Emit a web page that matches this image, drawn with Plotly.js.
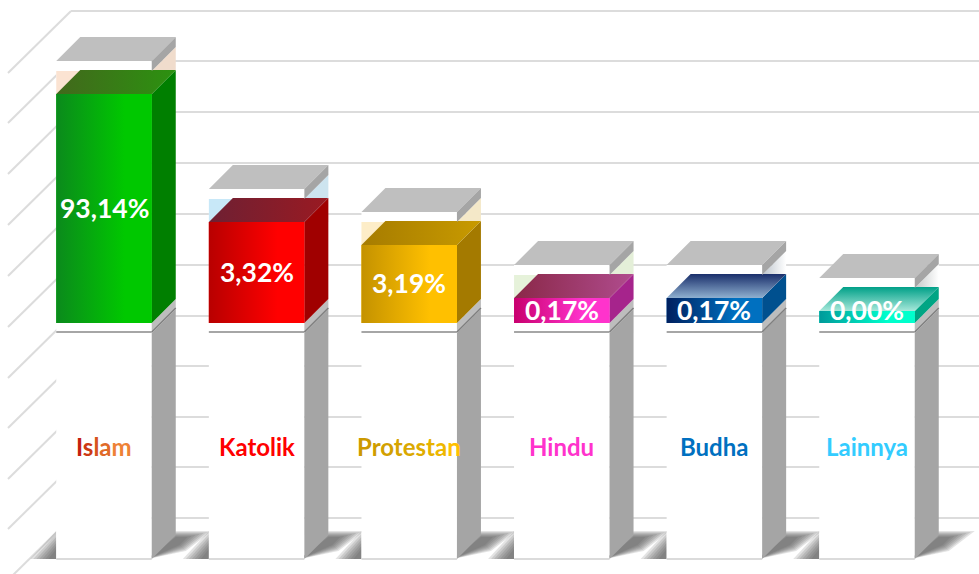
<!DOCTYPE html>
<html>
<head>
<meta charset="utf-8">
<script src="https://cdn.plot.ly/plotly-3.0.1.min.js"></script>
<style>html,body{margin:0;padding:0;background:#fff;overflow:hidden}#chart{width:979px;height:574px}</style>
</head>
<body>
<div id="chart"></div>
<script>
// ---- chart data ----
var categories = ["Islam", "Katolik", "Protestan", "Hindu", "Budha", "Lainnya"];
var percentValues = [93.14, 3.32, 3.19, 0.17, 0.17, 0.00];
// drawn column heights (the picture's bars are not proportional to their labels)
var columnHeights = [229, 101, 78, 25, 25, 12];
var gridLevels = [312, 262, 211, 160, 109, 58, 7, -43, -94, -144, -195];

// ---- styles ----
var frontStart = ["#0b8a1c", "#b80000", "#c49200", "#c8006e", "#00205f", "#009a9a"];
var frontEnd   = ["#00c800", "#ff0000", "#ffc000", "#ff33cc", "#0070c0", "#00ffcc"];
var sideColors = ["#007f00", "#a00000", "#a47a00", "#a6248c", "#00508f", "#00a584"];
var topStart   = ["#42681c", "#6e2033", "#a67c00", "#8a2848", "#1a2f6b", "#00a088"];
var topEnd     = ["#2c9210", "#9a1a22", "#c89a00", "#b04c8e", "#8fb0d0", "#a6e8da"];
var topVertical = [false, false, false, false, true, true];
var paleLeft   = ["#fbe3d2", "#c8e8f8", "#fdedc8", "#e6f2da", "#ffffff", "#ffffff"];
var paleSide   = ["#f0dccc", "#cde4ef", "#f4e8c8", "#e4efd8", "#bcc4cc", "#c4c8c8"];
var labelColors = [
  ["#c4200f", "#cc3a14", "#d6541c", "#e06a28", "#ee8236"],
  ["#ff0000"],
  ["#cc9900", "#cf9c00", "#d2a000", "#d6a400", "#daa800", "#dfad00", "#e6b200", "#eeb800", "#ffc000"],
  ["#ff33cc"], ["#0070c0"], ["#33ccff"]
];
var labelFont = "Lato, 'Open Sans', sans-serif";

// ---- scales ----
var pitch = 152.6, firstCentre = 104, W = 979, H = 574, zeroPx = 323;
var xRange = [-firstCentre / pitch, (W - firstCentre) / pitch];
var yRange = [zeroPx - H, zeroPx];
var barW = 95.5 / pitch, D = 24 / pitch, dY = 24, capH = 33, floorY = -236, gapY = -10;
var wallX = -33 / pitch, wallDX = 63 / pitch, wallDY = 62, gridEnd = xRange[1];

var traces = [];
var idx = categories.map(function (_, i) { return i; });
function bar(base, y, color) {
  return { type: "bar", x: idx, y: y, base: base, width: barW, marker: { color: color, line: { width: 0 } }, hoverinfo: "skip", showlegend: false };
}
traces.push(bar(idx.map(function () { return floorY; }), idx.map(function () { return -floorY; }), "#ffffff"));
traces.push(bar(idx.map(function () { return 0; }), columnHeights, frontEnd));
traces.push(bar(columnHeights, idx.map(function () { return capH; }), "#ffffff"));

function poly(xs, ys, color, grad) {
  var t = { type: "scatter", mode: "lines", x: xs.concat([xs[0]]), y: ys.concat([ys[0]]), fill: "toself",
            line: { width: 0 }, hoverinfo: "skip", showlegend: false };
  if (grad) t.fillgradient = grad; else t.fillcolor = color;
  traces.push(t);
}
function hGrad(a, b, c1, c2) { return { type: "horizontal", start: a, stop: b, colorscale: [[0, c1], [1, c2]] }; }
function vGrad(a, b, c1, c2) { return { type: "vertical", start: a, stop: b, colorscale: [[0, c1], [1, c2]] }; }
function seg(xs, ys, color, width) {
  traces.push({ type: "scatter", mode: "lines", x: xs, y: ys, line: { color: color, width: width }, hoverinfo: "skip", showlegend: false });
}

// soft floor shadows: stacked translucent wedges
idx.forEach(function (i) {
  var L = i - barW / 2, R = i + barW / 2, px = 1 / pitch;
  for (var k = 0; k < 7; k++) {
    poly([L - (26 - 3 * k) * px, L, L], [floorY, floorY + 28 - 3 * k, floorY], "rgba(80,80,80,0.16)");
    if (i < categories.length - 1 || k > -1) {
      poly([R - 4 * px, R + D, R + D + (36 - 4 * k) * px, R + D + (10 - k) * px],
           [floorY, floorY + 28 - k, floorY + 28 - k, floorY + 8 + k], "rgba(80,80,80,0.16)");
    }
  }
  // re-cover the pillar front, then its soft lower edge
  poly([L, R, R, L], [floorY, floorY, floorY + 30, floorY + 30], "#ffffff");
  seg([L, R], [floorY, floorY], "#cfcfcf", 1.5);
});

idx.forEach(function (i) {
  var h = columnHeights[i], L = i - barW / 2, R = i + barW / 2;
  // pillar side and collar
  poly([R, R + D, R + D, R], [gapY, gapY + dY, floorY + dY, floorY], "#a5a5a5");
  poly([R, R + D, R + D, R], [0, dY, gapY + dY, gapY], "#bdbdbd");
  seg([L, R], [gapY + 1, gapY + 1], "#a6a6a6", 2);
  seg([R, R + D], [gapY + 1, gapY + dY + 1], "#7f7f7f", 1.5);
  // pale reflections behind the top face
  poly([L, L + D, L], [h, h + dY - 1, h + dY - 1], paleLeft[i]);
  if (topVertical[i]) {
    poly([R, R + D, R + D], [h + dY - 1, h + 2 * dY - 1, h + dY], null, hGrad(R, R + D, paleSide[i], "#ffffff"));
  } else {
    poly([R, R + D, R + D], [h + dY - 1, h + 2 * dY - 1, h + dY], paleSide[i]);
  }
  // coloured column
  poly([R, R + D, R + D, R], [0, dY, h + dY, h], sideColors[i]);
  poly([L, L + D, R + D, R], [h, h + dY, h + dY, h], null,
       topVertical[i] ? vGrad(h, h + dY, topEnd[i], topStart[i]) : hGrad(L, R + D, topStart[i], topEnd[i]));
  poly([L, R, R, L], [0, 0, h, h], null, {
    type: "horizontal", start: L, stop: R,
    colorscale: [[0, frontStart[i]], [0.72, frontEnd[i]], [1, frontEnd[i]]]
  });
  // grey lid
  poly([L, L + D, R + D, R], [h + capH, h + capH + dY, h + capH + dY, h + capH], "#bfbfbf");
  poly([R, R + D, R + D, R], [h + capH, h + capH + dY, h + capH + dY - 10, h + capH - 10], "#a5a5a5");
});

// back wall / side wall grid
var shapes = [];
function gridLine(x0, y0, x1, y1) {
  shapes.push({ type: "line", layer: "below", xref: "x", yref: "y", x0: x0, y0: y0, x1: x1, y1: y1, line: { color: "#dcdcdc", width: 2 } });
}
gridLevels.forEach(function (g) {
  gridLine(wallX, g, gridEnd, g);
  gridLine(wallX, g, wallX - wallDX, g - wallDY);
});

// text
var annotations = [];
function fmt(v) { return v.toFixed(2).replace(".", ",") + "%"; }
idx.forEach(function (i) {
  var h = columnHeights[i];
  annotations.push({ x: i, y: Math.max(h / 2, 12.5) + 1, xref: "x", yref: "y", text: fmt(percentValues[i]), showarrow: false,
                     font: { family: labelFont, size: 26.5, color: "#ffffff", weight: 700 }, xanchor: "center", yanchor: "middle" });
  var colors = labelColors[i], name = categories[i], txt = "";
  if (colors.length === 1) txt = name;
  else name.split("").forEach(function (c, k) { txt += '<span style="color:' + colors[k] + '">' + c + "</span>"; });
  annotations.push({ x: i, y: -123, xref: "x", yref: "y", text: txt, showarrow: false,
                     font: { family: labelFont, size: 24, color: colors[0], weight: 700 }, xanchor: "center", yanchor: "middle" });
});

Plotly.newPlot("chart", traces, {
  width: W, height: H, margin: { l: 0, r: 0, t: 0, b: 0, pad: 0 },
  paper_bgcolor: "#ffffff", plot_bgcolor: "#ffffff", showlegend: false, hovermode: false, barmode: "overlay",
  xaxis: { range: xRange, visible: false, fixedrange: true },
  yaxis: { range: yRange, visible: false, fixedrange: true },
  shapes: shapes, annotations: annotations
}, { displayModeBar: false, staticPlot: true });
</script>
</body>
</html>
